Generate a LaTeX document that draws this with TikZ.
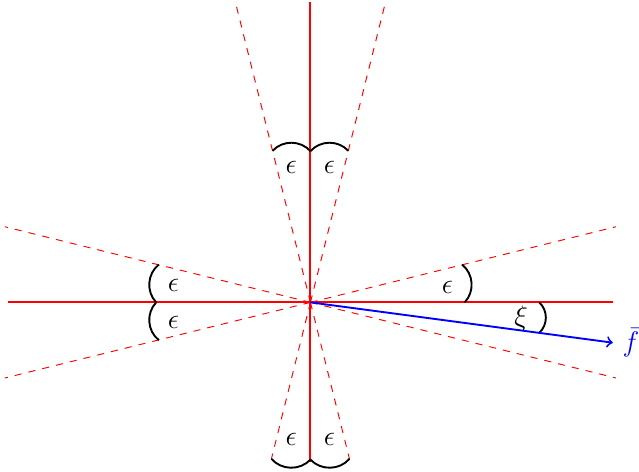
\documentclass[tikz,border=0pt]{standalone}
\usepackage{amsmath,amssymb}
\usepackage{xcolor}
\usepackage{tikz}
\usetikzlibrary{arrows, positioning, calc}

\begin{document}
\begin{tikzpicture}[
    x=1.5cm, y=1.5cm,
    axisline/.style={thick, color=red},
    coneline/.style={dashed, color=red},
    anglearc/.style={thick, color=black, bend right=48},
    forcearrow/.style={thick, ->, color=blue},
    anglelabel/.style={inner sep=1pt, font=\large}
]
    \useasboundingbox (-3.08,-1.68) rectangle (3.26,3.0);

    % Reference points
    \coordinate (O) at (0,0);
    \coordinate (east) at (3,0);
    \coordinate (west) at (-3,0);
    \coordinate (north) at (0,2.98);
    \coordinate (south) at (0,-1.58);
    \coordinate (eastup) at (3.03,0.75);
    \coordinate (eastdown) at (3.03,-0.75);
    \coordinate (westup) at (-3.03,0.75);
    \coordinate (westdown) at (-3.03,-0.75);
    \coordinate (northleft) at (-0.75,3.0);
    \coordinate (northright) at (0.75,3.0);
    \coordinate (southleft) at (256:1.6);
    \coordinate (southright) at (284:1.6);

    % Cone boundaries
    \draw [coneline] (O) -- (eastup);
    \draw [coneline] (O) -- (eastdown);
    \draw [coneline] (O) -- (westup);
    \draw [coneline] (O) -- (westdown);
    \draw [coneline] (O) -- (northleft);
    \draw [coneline] (O) -- (northright);
    \draw [coneline] (O) -- (southleft);
    \draw [coneline] (O) -- (southright);

    % Axes
    \draw [axisline] (west) -- (east);
    \draw [axisline] (south) -- (north);

    % Angle arcs
    \draw [anglearc] (0:1.53) to (14:1.55);
    \draw [anglearc] (166:1.55) to (180:1.53);
    \draw [anglearc] (180:1.53) to (194:1.55);
    \draw [anglearc] (76:1.55) to (90:1.5);
    \draw [anglearc] (90:1.5) to (104:1.55);
    \draw [anglearc] (256:1.6) to (270:1.56);
    \draw [anglearc] (270:1.56) to (284:1.6);
    \draw [anglearc] (-7.59:2.29) to (0:2.27);

    % Angle labels
    \node (epsE) [anglelabel] at (1.36,0.15) {$\epsilon$};
    \node (epsWU) [anglelabel] at (-1.36,0.17) {$\epsilon$};
    \node (epsWD) [anglelabel] at (-1.36,-0.2) {$\epsilon$};
    \node (epsNL) [anglelabel] at (-0.19,1.34) {$\epsilon$};
    \node (epsNR) [anglelabel] at (0.19,1.34) {$\epsilon$};
    \node (epsSL) [anglelabel] at (-0.19,-1.36) {$\epsilon$};
    \node (epsSR) [anglelabel] at (0.19,-1.36) {$\epsilon$};
    \node (xi) [anglelabel] at (2.09,-0.16) {$\xi$};

    % Force direction
    \node (fbar) [anchor=west, inner sep=4pt, color=blue, font=\large] at (3,-0.4) {$\bar f$};
    \draw [forcearrow] (O) -- (fbar.west);

\end{tikzpicture}
\end{document}
